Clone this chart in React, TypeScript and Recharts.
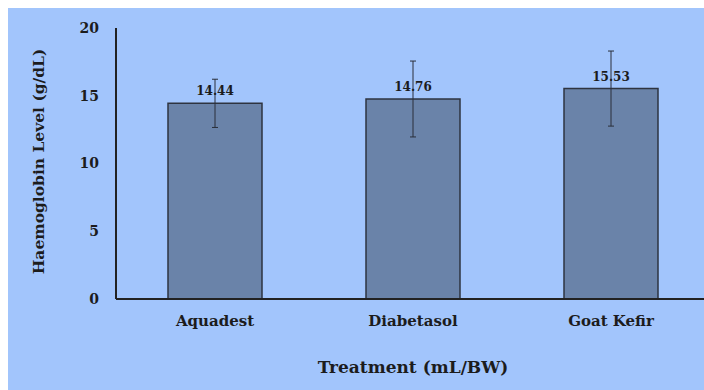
import React from 'react';
import { BarChart, Bar, XAxis, YAxis, ErrorBar, LabelList, Label } from 'recharts';

const categories = ['Aquadest', 'Diabetasol', 'Goat Kefir'];
const means = [14.44, 14.76, 15.53];
const errors = [1.78, 2.8, 2.77];
const yTicks = [0, 5, 10, 15, 20];

const data = categories.map((c, i) => ({ name: c, value: means[i], err: errors[i] }));

const FONT = '"DejaVu Serif", "Liberation Serif", serif';
const TEXT = '#1c1c1c';
const AXIS = '#222222';
const BG = '#A2C5FC';

const YTitle = (props: any) => {
  const vb = props.viewBox || {};
  const cx = vb.x + 30;
  const cy = vb.y + vb.height / 2 - 2;
  return (
    <text
      x={cx}
      y={cy}
      transform={`rotate(-90, ${cx}, ${cy})`}
      textAnchor="middle"
      dominantBaseline="central"
      fontFamily={FONT}
      fontWeight="bold"
      fontSize={15.5}
      fill={TEXT}
    >
      Haemoglobin Level (g/dL)
    </text>
  );
};

const XTitle = (props: any) => {
  const vb = props.viewBox || {};
  return (
    <text
      x={vb.x + vb.width / 2}
      y={vb.y + 74}
      textAnchor="middle"
      fontFamily={FONT}
      fontWeight="bold"
      fontSize={17}
      fill={TEXT}
    >
      Treatment (mL/BW)
    </text>
  );
};

export default function App() {
  return (
    <div
      style={{
        position: 'fixed',
        left: 8,
        top: 8,
        width: 704,
        height: 390,
        overflow: 'hidden',
        background: BG,
      }}
    >
      <style>{`html,body{overflow:hidden;}`}</style>
      <BarChart
        width={702}
        height={382}
        data={data}
        margin={{ top: 20, right: 0, bottom: 0, left: 0 }}
        style={{ background: BG }}
      >
        <XAxis
          dataKey="name"
          height={91}
          tickLine={false}
          tickSize={0}
          tickMargin={16}
          axisLine={{ stroke: AXIS, strokeWidth: 2 }}
          tick={{ fontFamily: FONT, fontWeight: 'bold', fontSize: 15, fill: TEXT }}
        >
          <Label content={XTitle} />
        </XAxis>
        <YAxis
          width={108}
          domain={[0, 20]}
          ticks={yTicks}
          interval={0}
          tickLine={false}
          tickSize={0}
          tickMargin={17}
          axisLine={{ stroke: AXIS, strokeWidth: 2 }}
          tick={{ fontFamily: FONT, fontWeight: 'bold', fontSize: 14, fill: TEXT }}
        >
          <Label content={YTitle} />
        </YAxis>
        <Bar
          dataKey="value"
          barSize={94}
          fill="#6A83A9"
          stroke="#2e3440"
          strokeWidth={1.5}
          isAnimationActive={false}
        >
          <LabelList
            dataKey="value"
            position="top"
            offset={8}
            fontFamily={FONT}
            fontWeight="bold"
            fontSize={12}
            fill={TEXT}
            formatter={(v: any) => Number(v).toFixed(2)}
          />
          <ErrorBar dataKey="err" width={3} stroke="#2a2f3a" strokeWidth={1} direction="y" isAnimationActive={false} />
        </Bar>
      </BarChart>
    </div>
  );
}
